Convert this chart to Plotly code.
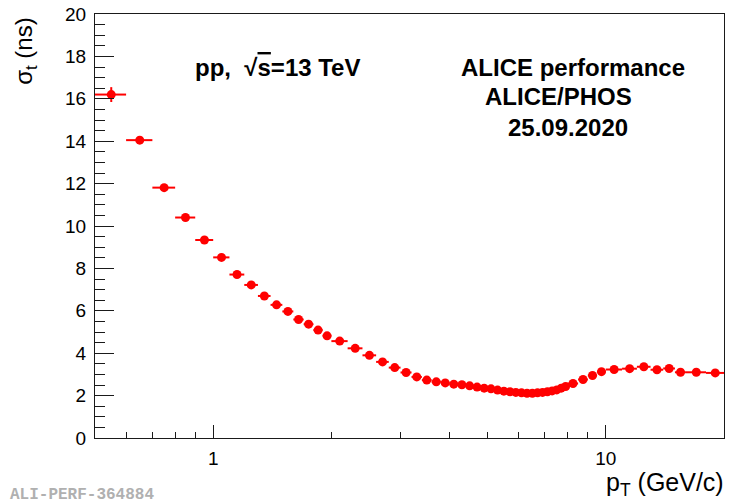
import plotly.graph_objects as go

# Bin centres and half widths in pT (GeV/c)
pt_centers = [0.55, 0.65, 0.75, 0.85, 0.95,
              1.05, 1.15, 1.25, 1.35, 1.45, 1.55, 1.65, 1.75, 1.85, 1.95,
              2.1, 2.3, 2.5, 2.7, 2.9, 3.1, 3.3, 3.5, 3.7, 3.9,
              4.1, 4.3, 4.5, 4.7, 4.9, 5.1, 5.3, 5.5, 5.7, 5.9,
              6.1, 6.3, 6.5, 6.7, 6.9, 7.1, 7.3, 7.5, 7.7, 7.9,
              8.25, 8.75, 9.25, 9.75,
              10.5, 11.5, 12.5, 13.5, 14.5, 15.5, 17.0, 19.0]
pt_halfwidths = [0.05] * 15 + [0.1] * 30 + [0.25] * 4 + [0.5] * 6 + [1.0, 1.0]

# Time resolution sigma_t (ns) and its uncertainty
sigma_t = [16.20, 14.05, 11.81, 10.40, 9.34,
           8.52, 7.71, 7.22, 6.70, 6.28, 5.97, 5.59, 5.37, 5.09, 4.82,
           4.57, 4.23, 3.90, 3.59, 3.32, 3.09, 2.88, 2.73, 2.65, 2.60,
           2.54, 2.51, 2.46, 2.40, 2.35, 2.32, 2.26, 2.21, 2.18, 2.15,
           2.13, 2.11, 2.11, 2.13, 2.15, 2.18, 2.22, 2.27, 2.35, 2.43,
           2.57, 2.76, 2.95, 3.13,
           3.23, 3.27, 3.36, 3.22, 3.28, 3.10, 3.10, 3.07]
sigma_err = [0.35, 0.15, 0.10, 0.08, 0.07,
             0.06, 0.06, 0.05, 0.05, 0.05, 0.05, 0.05, 0.05, 0.05, 0.05,
             0.04, 0.04, 0.04, 0.04, 0.04, 0.04, 0.04, 0.04, 0.04, 0.04,
             0.04, 0.04, 0.04, 0.04, 0.04, 0.04, 0.04, 0.04, 0.04, 0.04,
             0.04, 0.04, 0.04, 0.04, 0.04, 0.04, 0.04, 0.04, 0.04, 0.05,
             0.05, 0.05, 0.06, 0.06,
             0.07, 0.08, 0.09, 0.10, 0.11, 0.12, 0.12, 0.14]

x_major = [1, 10]
x_major_text = ["1", "10"]
x_minor = [0.6, 0.7, 0.8, 0.9, 2, 3, 4, 5, 6, 7, 8, 9]

FONT = "Liberation Sans, Arial, Helvetica, sans-serif"
RED = "#ff0000"

fig = go.Figure()
fig.add_trace(go.Scatter(
    x=pt_centers, y=sigma_t, mode="markers",
    marker=dict(symbol="circle", size=9, color=RED, line=dict(width=0)),
    error_x=dict(type="data", array=pt_halfwidths, symmetric=True,
                 color=RED, thickness=2, width=0),
    error_y=dict(type="data", array=sigma_err, symmetric=True,
                 color=RED, thickness=2, width=0),
    showlegend=False,
))

axis_common = dict(
    showline=True, linecolor="#1a1a1a", linewidth=1, mirror=True,
    showgrid=False, zeroline=False,
    ticks="inside", tickcolor="#1a1a1a", tickwidth=1,
    tickfont=dict(family=FONT, size=19, color="black"),
)

fig.update_xaxes(
    type="log", range=[-0.30103, 1.30103],
    tickmode="array", tickvals=x_major, ticktext=x_major_text,
    ticklen=13, ticklabelstandoff=3,
    minor=dict(tickmode="array", tickvals=x_minor, ticks="inside",
               ticklen=6, tickcolor="#1a1a1a", tickwidth=1, showgrid=False),
    **axis_common,
)
fig.update_yaxes(
    range=[0, 20], tickmode="linear", tick0=0, dtick=2,
    ticklen=19, ticklabelstandoff=4,
    minor=dict(dtick=0.5, ticks="inside", ticklen=10,
               tickcolor="#1a1a1a", tickwidth=1, showgrid=False),
    **axis_common,
)

bold = dict(family=FONT, size=24, color="black")
annotations = [
    dict(text="<b>pp,\u00a0\u00a0√<span style='text-decoration:overline'>s</span>=13 TeV</b>",
         x=0.1556, y=0.873, xanchor="left", yanchor="middle", font=bold),
    dict(text="<b>ALICE performance</b>", x=0.760, y=0.873,
         xanchor="center", yanchor="middle", font=bold),
    dict(text="<b>ALICE/PHOS</b>", x=0.7365, y=0.805,
         xanchor="center", yanchor="middle", font=bold),
    dict(text="<b>25.09.2020</b>", x=0.752, y=0.732,
         xanchor="center", yanchor="middle", font=bold),
    dict(text="σ<sub>t</sub> (ns)", x=-0.111, y=0.995, textangle=-90,
         xanchor="center", yanchor="top",
         font=dict(family=FONT, size=24, color="black")),
    dict(text="p<sub>T</sub> (GeV/c)", x=1.003, y=-0.108,
         xanchor="right", yanchor="middle",
         font=dict(family=FONT, size=25, color="black")),
    dict(text="<b>ALI-PERF-364884</b>", x=-0.138, y=-0.134,
         xanchor="left", yanchor="middle",
         font=dict(family="Liberation Mono, Courier New, monospace",
                   size=16, color="#b0b0b0")),
]
for a in annotations:
    a.update(xref="paper", yref="paper", showarrow=False)

fig.update_layout(
    width=729, height=503,
    margin=dict(l=95, r=4, t=12, b=65, pad=0),
    paper_bgcolor="white", plot_bgcolor="white",
    annotations=annotations,
)

fig.write_html("out.html")
